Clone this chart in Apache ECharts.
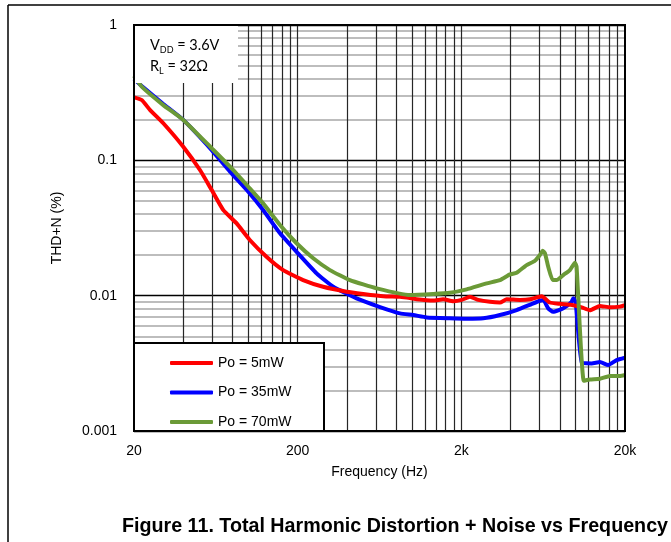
<!DOCTYPE html>
<html>
<head>
<meta charset="utf-8">
<script src="https://cdn.jsdelivr.net/npm/echarts@6/dist/echarts.min.js"></script>
<style>
html,body{margin:0;padding:0;background:#fff;}
#chart{width:671px;height:542px;}
</style>
</head>
<body>
<div id="chart"></div>
<script>
// ---- data ----
var seriesNames = ['Po = 5mW', 'Po = 35mW', 'Po = 70mW'];

var freqRed = [20, 22.3, 25.1, 30.2, 40, 50.6, 59.7, 70.3, 84.8, 102, 129, 163, 216, 286, 398, 503, 667, 843, 971, 1067, 1347, 1549, 1786, 2009, 2259, 2539, 2993, 3445, 3785, 4561, 5250, 6192, 6953, 8000, 9660, 10870, 12220, 14060, 16180, 18620, 20000];
var thdRed = [0.292, 0.279, 0.235, 0.188, 0.126, 0.0848, 0.0603, 0.0429, 0.0342, 0.0258, 0.0194, 0.01545, 0.01303, 0.01163, 0.0107, 0.0103, 0.0099, 0.0098, 0.0096, 0.0094, 0.0092, 0.0094, 0.0091, 0.0093, 0.0098, 0.0093, 0.0090, 0.0089, 0.0094, 0.0093, 0.0094, 0.0099, 0.0089, 0.0087, 0.0085, 0.0082, 0.0078, 0.0084, 0.0082, 0.0083, 0.0085];

var freqBlue = [20, 22.3, 30.2, 40, 59.7, 77.2, 99.8, 123, 156, 197, 261, 330, 458, 637, 843, 1017, 1228, 1703, 2154, 2723, 3445, 4355, 5373, 6040, 6330, 6790, 7280, 8390, 9440, 9660, 9990, 10900, 12500, 14060, 15780, 17770, 20000];
var thdBlue = [0.40, 0.354, 0.261, 0.199, 0.119, 0.0824, 0.0586, 0.0429, 0.0289, 0.0211, 0.01462, 0.01163, 0.00955, 0.00824, 0.0074, 0.00719, 0.00691, 0.0068, 0.00675, 0.0068, 0.00719, 0.00783, 0.00867, 0.00917, 0.0093, 0.00806, 0.0076, 0.00806, 0.00901, 0.00955, 0.00901, 0.00318, 0.00316, 0.00323, 0.00307, 0.00334, 0.00348];

var freqGreen = [20, 22.3, 30.2, 40, 59.7, 77.2, 99.8, 123, 156, 197, 249, 315, 417, 608, 971, 1347, 1703, 2154, 2857, 3445, 3963, 4355, 5012, 5635, 6040, 6280, 6490, 6790, 7230, 7640, 8390, 9210, 9890, 10120, 11200, 12220, 14060, 16180, 18620, 20000];
var thdGreen = [0.42, 0.35, 0.256, 0.199, 0.1227, 0.0897, 0.0638, 0.0481, 0.0333, 0.0244, 0.0189, 0.01545, 0.01303, 0.01132, 0.0101, 0.01028, 0.0105, 0.01114, 0.01233, 0.01303, 0.01436, 0.01477, 0.01683, 0.01812, 0.01995, 0.02147, 0.02055, 0.01636, 0.01303, 0.01303, 0.0142, 0.01545, 0.0175, 0.01636, 0.00235, 0.0024, 0.00243, 0.00255, 0.00255, 0.00259];

var xTickValues = [20, 200, 2000, 20000];
var xTickLabels = ['20', '200', '2k', '20k'];
var yTickValues = [0.001, 0.01, 0.1, 1];
var yTickLabels = ['0.001', '0.01', '0.1', '1'];

var xTitle = 'Frequency (Hz)';
var yTitle = 'THD+N (%)';
var figTitle = 'Figure 11. Total Harmonic Distortion + Noise vs Frequency';

// ---- gridline positions (log minor divisions) ----
var xGrid = [];
[20, 200, 2000].forEach(function (d) { for (var k = 2; k <= 10; k++) { if (d * k < 20000) xGrid.push(d * k); } });
var yMinorGrid = [];
[0.001, 0.01, 0.1].forEach(function (d) { for (var k = 2; k <= 9; k++) yMinorGrid.push(+(d * k).toPrecision(3)); });

function pair(f, v) { return f.map(function (x, i) { return [x, v[i]]; }); }
function lookup(vals, labels, v) {
  for (var i = 0; i < vals.length; i++) {
    if (Math.abs(Math.log10(v) - Math.log10(vals[i])) < 1e-6) return labels[i];
  }
  return '';
}

var FONT = 'Liberation Sans, Arial, sans-serif';
var chart = echarts.init(document.getElementById('chart'), null, { renderer: 'canvas' });

var L = 134, T = 25, W = 491, H = 406;

chart.setOption({
  animation: false,
  backgroundColor: '#fff',
  grid: { left: L, top: T, width: W, height: H, containLabel: false, outerBoundsMode: 'none' },
  xAxis: {
    type: 'log', logBase: 10, min: 20, max: 20000, z: 1,
    axisLine: { show: false },
    axisTick: { show: false, customValues: xGrid },
    splitLine: { show: true, lineStyle: { color: '#262626', width: 1.2 } },
    minorSplitLine: { show: false },
    axisLabel: {
      customValues: xTickValues, margin: 13, fontSize: 14, color: '#000', fontFamily: FONT,
      formatter: function (v) { return lookup(xTickValues, xTickLabels, v); }
    },
    name: xTitle, nameLocation: 'middle', nameGap: 34,
    nameTextStyle: { fontSize: 14, color: '#000', fontFamily: FONT }
  },
  yAxis: [{
    type: 'log', logBase: 10, min: 0.001, max: 1, z: 1,
    axisLine: { show: false },
    axisTick: { show: false, customValues: yTickValues },
    splitLine: { show: true, lineStyle: { color: '#000', width: 1.3 } },
    axisLabel: {
      customValues: yTickValues, margin: 17, fontSize: 14, color: '#000', fontFamily: FONT,
      formatter: function (v) { return lookup(yTickValues, yTickLabels, v); }
    },
    name: yTitle, nameLocation: 'middle', nameGap: 70,
    nameTextStyle: { fontSize: 14, color: '#000', fontFamily: FONT }
  }, {
    type: 'log', logBase: 10, min: 0.001, max: 1, z: 0, position: 'right',
    axisLine: { show: false },
    axisTick: { show: false, customValues: yMinorGrid },
    axisLabel: { show: false },
    splitLine: { show: true, lineStyle: { color: '#bdbdbd', width: 2 } }
  }],
  legend: {
    orient: 'vertical', left: 165, top: 351, itemWidth: 43, itemHeight: 4, itemGap: 15.5,
    icon: 'roundRect', z: 20,
    textStyle: { fontSize: 14, color: '#000', fontFamily: FONT },
    data: seriesNames
  },
  series: [
    { name: seriesNames[0], type: 'line', showSymbol: false, symbol: 'none', data: pair(freqRed, thdRed), smooth: 0.15,
      lineStyle: { color: '#ff0000', width: 4 }, itemStyle: { color: '#ff0000' }, z: 4 },
    { name: seriesNames[1], type: 'line', showSymbol: false, symbol: 'none', data: pair(freqBlue, thdBlue), smooth: 0.15,
      lineStyle: { color: '#0000ff', width: 4 }, itemStyle: { color: '#0000ff' }, z: 3 },
    { name: seriesNames[2], type: 'line', showSymbol: false, symbol: 'none', data: pair(freqGreen, thdGreen), smooth: 0.15,
      lineStyle: { color: '#6b9a37', width: 4 }, itemStyle: { color: '#6b9a37' }, z: 5 }
  ],
  graphic: [
    { type: 'line', z: 30, shape: { x1: 8, y1: 5, x2: 671, y2: 5 }, style: { stroke: '#000', lineWidth: 1.5 } },
    { type: 'line', z: 30, shape: { x1: 8, y1: 5, x2: 8, y2: 542 }, style: { stroke: '#000', lineWidth: 1.5 } },
    { type: 'rect', z: 9, shape: { x: L + 1, y: T + 1, width: 103, height: 57 }, style: { fill: '#fff' } },
    { type: 'text', z: 12, style: {
        x: 150, y: 35, textVerticalAlign: 'top', text: '{a|V}{s|DD}{a| = 3.6V}',
        rich: { a: { fontSize: 14.5, lineHeight: 20, fontFamily: 'Lato', fill: '#000' },
                s: { fontSize: 9, lineHeight: 8, verticalAlign: 'bottom', fontFamily: 'Lato', fill: '#000' } } } },
    { type: 'text', z: 12, style: {
        x: 150, y: 56, textVerticalAlign: 'top', text: '{a|R}{s|L}{a| = 32Ω}',
        rich: { a: { fontSize: 14.5, lineHeight: 20, fontFamily: 'Lato', fill: '#000' },
                s: { fontSize: 9, lineHeight: 8, verticalAlign: 'bottom', fontFamily: 'Lato', fill: '#000' } } } },
    { type: 'rect', z: 9, shape: { x: L, y: 343, width: 190, height: H + T - 343 }, style: { fill: '#fff', stroke: '#000', lineWidth: 2 } },
    { type: 'rect', z: 10, shape: { x: L, y: T, width: W, height: H }, style: { fill: 'none', stroke: '#000', lineWidth: 2 } },
    { type: 'text', z: 12, style: { x: 395, y: 527, text: figTitle, textAlign: 'center', textVerticalAlign: 'middle',
        font: 'bold 19.7px Liberation Sans, Arial, sans-serif', fill: '#000' } }
  ]
});
</script>
</body>
</html>
